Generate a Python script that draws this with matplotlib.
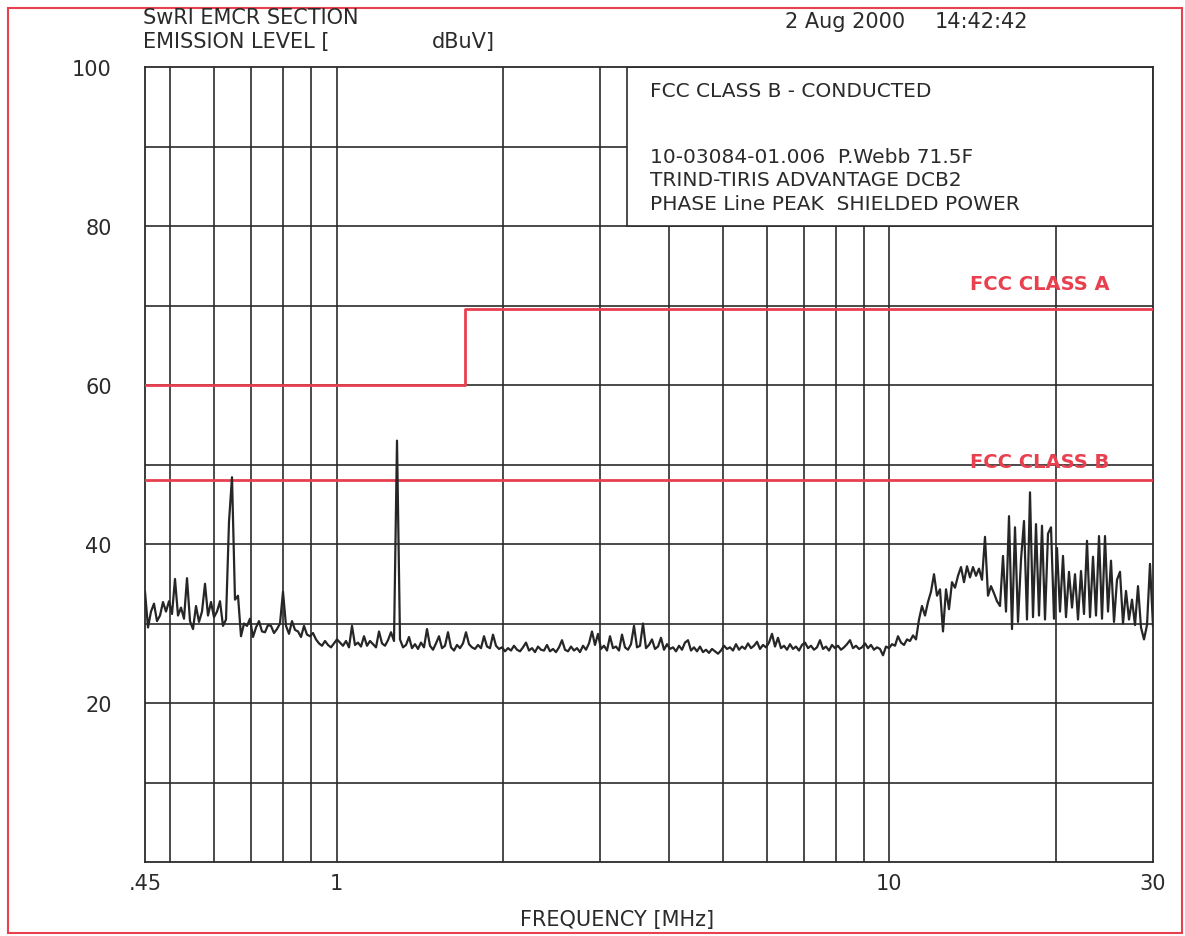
import numpy as np
import matplotlib
matplotlib.use("Agg")
import matplotlib.pyplot as plt
from matplotlib.patches import Rectangle

plt.rcParams['font.family'] = ['DejaVu Sans']

# Measured peak emission level (dBuV), read left to right across the sweep
level = [
    # 0.45 - 1 MHz
    34.0, 29.5, 31.5, 32.5, 30.3, 31.0, 32.7, 31.5, 32.8, 31.2,
    35.6, 31.0, 32.0, 30.6, 35.7, 30.3, 29.3, 32.2, 30.2, 31.5,
    35.0, 31.0, 32.7, 30.8, 31.5, 32.8, 29.7, 30.5, 42.8, 48.4,
    33.0, 33.5, 28.4, 30.0, 29.7, 30.6, 28.3, 29.5, 30.3, 29.0,
    28.9, 29.8, 29.7, 28.8, 29.3, 30.0, 34.0, 29.7, 28.7, 30.3,
    29.2, 29.0, 28.3, 29.7, 28.6, 28.4, 28.8, 28.0, 27.5, 27.2,
    27.8, 27.3, 27.0, 27.5, 28.0,
    # 1 - 11 MHz
    27.6, 27.2, 27.8, 27.0, 29.7, 27.3, 27.6, 27.1, 28.4, 27.2,
    27.8, 27.4, 27.0, 29.0, 27.5, 27.2, 27.9, 28.9, 27.8, 53.0,
    28.0, 27.0, 27.3, 28.3, 26.9, 27.4, 26.8, 27.6, 27.0, 29.3,
    27.2, 26.7, 27.5, 28.4, 26.9, 27.2, 28.9, 27.0, 26.6, 27.3,
    26.9, 27.5, 28.9, 27.4, 27.0, 26.8, 27.3, 26.9, 28.4, 27.1,
    26.9, 28.6, 27.2, 26.8, 27.0, 26.5, 26.9, 26.6, 27.2, 26.7,
    26.5, 27.0, 27.6, 26.6, 26.9, 26.4, 27.1, 26.7, 26.6, 27.3,
    26.5, 26.8, 26.4, 27.0, 27.9, 26.7, 26.5, 27.1, 26.6, 26.9,
    26.4, 27.2, 26.7, 27.5, 29.0, 27.3, 28.7, 26.8, 27.2, 26.6,
    28.4, 26.9, 27.1, 26.6, 28.6, 27.0, 26.7, 27.4, 29.7, 27.0,
    27.2, 30.0, 26.9, 27.3, 28.0, 26.8, 27.1, 28.2, 26.7, 27.4,
    26.8, 27.0, 26.5, 27.2, 26.7, 27.6, 27.9, 26.6, 27.0, 26.5,
    27.1, 26.4, 26.7, 26.3, 26.8, 26.5, 26.2, 26.6, 27.2, 26.8,
    27.0, 26.6, 27.4, 26.7, 27.1, 26.8, 27.5, 26.9, 27.2, 27.7,
    26.8, 27.3, 27.0, 27.6, 28.7, 27.1, 28.2, 26.9, 27.2, 26.7,
    27.4, 26.8, 27.1, 26.6, 27.3, 27.6, 26.9, 27.2, 26.7, 27.0,
    27.9, 26.8, 27.1, 26.6, 27.3, 26.9, 27.2, 26.7, 27.0, 27.4,
    27.9, 26.9, 27.2, 26.8, 27.0, 27.5, 26.9, 27.3, 26.7, 27.0,
    26.8, 26.0, 27.1, 26.9, 27.4, 27.2, 28.4, 27.6, 27.3, 28.0,
    27.8, 28.5,
    # 11 - 30 MHz
    28.0, 30.5, 32.2, 31.0, 32.7, 34.0, 36.2, 33.5, 34.3, 29.0,
    34.3, 31.8, 35.2, 34.5, 36.0, 37.1, 35.2, 37.2, 35.8, 37.1,
    36.0, 36.9, 35.5, 40.9, 33.5, 34.7, 33.8, 32.8, 32.2, 38.5,
    31.5, 43.5, 29.3, 42.1, 30.2, 38.0, 42.9, 30.5, 46.5, 30.8,
    42.5, 31.0, 42.3, 30.5, 41.3, 42.1, 30.6, 39.5, 31.5, 38.5,
    30.8, 36.5, 32.0, 36.2, 30.5, 36.6, 31.2, 40.4, 30.8, 38.4,
    31.0, 41.0, 30.6, 41.0, 31.5, 37.9, 30.2, 35.5, 36.5, 30.0,
    34.1, 30.5, 33.0, 29.8, 34.7, 29.5, 28.0, 29.8, 37.5, 29.7,
]
freq = np.geomspace(0.45, 30, len(level))  # analyzer sweep points, MHz

# FCC conducted limits (dBuV)
class_a_freq = [0.45, 1.705, 1.705, 30]
class_a_level = [60, 60, 69.5, 69.5]
class_b_freq = [0.45, 30]
class_b_level = [48, 48]

grid_freqs = [0.5, 0.6, 0.7, 0.8, 0.9, 1, 2, 3, 4, 5, 6, 7, 8, 9, 10, 20]
grid_levels = [10, 20, 30, 40, 50, 60, 70, 80, 90]
xtick_vals = [0.45, 1, 10, 30]
xtick_labels = ['.45', '1', '10', '30']
ytick_vals = [20, 40, 60, 80, 100]

ink = '#2b2b2b'
red = '#e8404f'

fig = plt.figure(figsize=(11.85, 9.37), dpi=100)
ax = fig.add_axes([145/1185, 1 - 863/937, 1008/1185, 795/937])
ax.set_xscale('log')
ax.set_xlim(0.45, 30)
ax.set_ylim(0, 100)

for f in grid_freqs:
    ax.axvline(f, color=ink, lw=1.2, zorder=1)
for lv in grid_levels:
    ax.axhline(lv, color=ink, lw=1.2, zorder=1)

# header box inside the plot
box = Rectangle((0.478, 0.8), 0.522, 0.2, transform=ax.transAxes,
                facecolor='white', edgecolor=ink, lw=1.2, zorder=2)
ax.add_patch(box)
tx = 0.501
box_lines = [(0.971, 'FCC CLASS B - CONDUCTED'),
             (0.888, '10-03084-01.006  P.Webb 71.5F'),
             (0.859, 'TRIND-TIRIS ADVANTAGE DCB2'),
             (0.828, 'PHASE Line PEAK  SHIELDED POWER')]
for ty, s in box_lines:
    ax.text(tx, ty, s, transform=ax.transAxes, fontsize=14.5, color=ink,
            va='center', zorder=3)

ax.plot(class_a_freq, class_a_level, color=red, lw=2, zorder=4)
ax.plot(class_b_freq, class_b_level, color=red, lw=2, zorder=4)
ax.text(18.7, 72.8, 'FCC CLASS A', color=red, fontsize=14, fontweight='bold',
        ha='center', va='center', zorder=5)
ax.text(18.7, 50.4, 'FCC CLASS B', color=red, fontsize=14, fontweight='bold',
        ha='center', va='center', zorder=5)

ax.plot(freq, level, color='#262626', lw=1.6, zorder=6)

ax.set_xticks(xtick_vals)
ax.set_xticklabels(xtick_labels)
ax.set_xticks([], minor=True)
ax.set_yticks(ytick_vals)
ax.tick_params(axis='both', length=0, labelsize=15, colors=ink)
ax.tick_params(axis='x', pad=8)
ax.tick_params(axis='y', pad=24)
for sp in ax.spines.values():
    sp.set_color(ink)
    sp.set_linewidth(1.3)

fig.text(617/1185, 1 - 920/937, 'FREQUENCY [MHz]', fontsize=15, color=ink,
         ha='center', va='center')
fig.text(143/1185, 1 - 18/937, 'SwRI EMCR SECTION', fontsize=15, color=ink, va='center')
fig.text(143/1185, 1 - 42/937, 'EMISSION LEVEL [', fontsize=15, color=ink, va='center')
fig.text(432/1185, 1 - 42/937, 'dBuV]', fontsize=15, color=ink, va='center')
fig.text(785/1185, 1 - 22/937, '2 Aug 2000', fontsize=15, color=ink, va='center')
fig.text(935/1185, 1 - 22/937, '14:42:42', fontsize=15, color=ink, va='center')

# red page border
fig.patches.append(Rectangle((8/1185, 3/937), 1174/1185, 925/937, transform=fig.transFigure,
                             fill=False, edgecolor=red, lw=1.5))

fig.savefig('out.png', dpi=100)
